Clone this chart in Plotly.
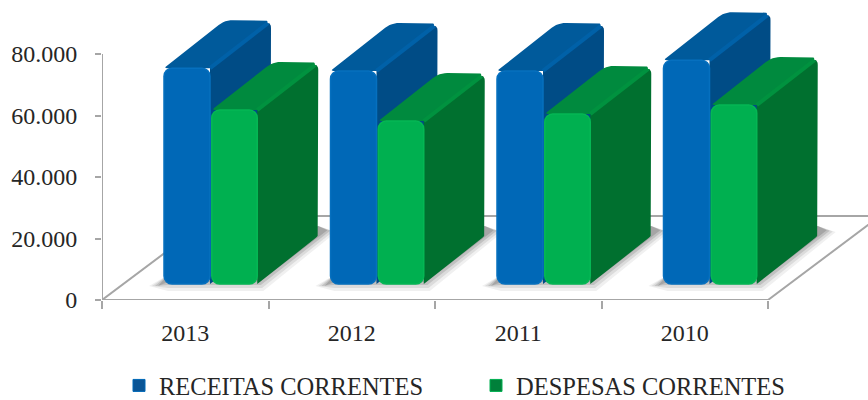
import plotly.graph_objects as go

# ---- data -------------------------------------------------------------
years = ["2013", "2012", "2011", "2010"]
receitas = [70200, 69300, 69300, 72800]
despesas = [56600, 53000, 55300, 58200]
y_ticks = [0, 20000, 40000, 60000, 80000]
y_labels = ["0", "20.000", "40.000", "60.000", "80.000"]
series_names = ["RECEITAS CORRENTES", "DESPESAS CORRENTES"]

# ---- scale helpers ----------------------------------------------------
SX = 166.5            # px per category
SY = 246 / 80000      # px per value unit
ux = lambda p: p / SX
uy = lambda p: p / SY
FONT = "Liberation Serif"
GRAY = "#a6a6a6"

BASE = uy(16)
DX, DY = ux(61), uy(48)
FLOOR_DX, FLOOR_DY = ux(112), uy(84)
OFF = [ux(-21.25), ux(26.5)]
WID = [ux(46), ux(45.5)]
positions = list(range(len(years)))


def rounded(points, radii):
    out = []
    n = len(points)
    for i in range(n):
        x, y = points[i]
        r = radii[i]
        if r == 0:
            out.append((x, y))
            continue
        ax, ay = points[i - 1]
        bx, by = points[(i + 1) % n]
        def towards(tx, ty):
            vx, vy = (tx - x) * SX, (ty - y) * SY
            d = (vx * vx + vy * vy) ** 0.5
            return x + vx / d * r / SX, y + vy / d * r / SY
        p0 = towards(ax, ay)
        p2 = towards(bx, by)
        for k in range(7):
            t = k / 6
            out.append(((1 - t) ** 2 * p0[0] + 2 * t * (1 - t) * x + t * t * p2[0],
                        (1 - t) ** 2 * p0[1] + 2 * t * (1 - t) * y + t * t * p2[1]))
    return out


def join(polys):
    xs, ys = [], []
    for poly in polys:
        xs += [p[0] for p in poly] + [poly[0][0], None]
        ys += [p[1] for p in poly] + [poly[0][1], None]
    return xs, ys


fig = go.Figure()


def line(xs, ys, z=0):
    fig.add_trace(go.Scatter(x=xs, y=ys, mode="lines", cliponaxis=False, showlegend=False,
                             hoverinfo="skip", zorder=z,
                             line=dict(color=GRAY, width=2)))


# floor and axes
x_l, x_r = -0.5, len(years) - 0.5
line([x_l, x_l], [0, y_ticks[-1]])
line([x_l, x_r], [0, 0])
line([x_l, x_l + FLOOR_DX, x_r + FLOOR_DX, x_r],
     [0, FLOOR_DY, FLOOR_DY, 0])

# floor shadows
for shrink, alpha in [(0, 0.08), (3, 0.12), (6, 0.18), (9, 0.22)]:
    polys = []
    for pos in positions:
        x0 = pos + OFF[0]
        x1 = pos + OFF[1] + WID[1]
        s = shrink
        polys.append([
            (x0 - ux(15 - s), BASE - uy(2)),
            (x0 + ux(4), BASE + uy(9)),
            (x1 + DX, BASE + DY + uy(10)),
            (x1 + DX + ux(18 - s), BASE + DY + uy(4 + s * 0.2)),
            (x1 + ux(6 - s * 0.4), BASE - uy(7 - s)),
            (x0 + ux(4), BASE - uy(7 - s)),
        ])
    xs, ys = join(polys)
    fig.add_trace(go.Scatter(x=xs, y=ys, mode="lines", fill="toself", line=dict(width=0),
                             fillcolor=f"rgba(70,70,70,{alpha})", showlegend=False,
                             hoverinfo="skip", zorder=1))

# 3-D faces and front bars
styles = [
    dict(top="#005a9b", side="#004c86", ridge="#0061a8", front="#0068b7", edge="#0670bf", key="#0a5596"),
    dict(top="#008a3e", side="#00702f", ridge="#00923f", front="#00b050", edge="#04b754", key="#00803a"),
]
for s, vals in enumerate([receitas, despesas]):
    st = styles[s]
    tops, sides, rx, ry = [], [], [], []
    for pos, v in zip(positions, vals):
        x0 = pos + OFF[s]
        x1 = x0 + WID[s]
        yt = BASE + v
        tops.append(rounded([(x0, yt), (x0 + DX, yt + DY), (x1 + DX, yt + DY), (x1, yt)],
                            [3, 8, 8, 0]))
        sides.append(rounded([(x1, yt), (x1 + DX, yt + DY), (x1 + DX, BASE + DY), (x1, BASE)],
                             [0, 8, 3, 0]))
        rx += [x1, x1 + DX - ux(3), None]
        ry += [yt, yt + DY - uy(3), None]
    for polys, color in [(tops, st["top"]), (sides, st["side"])]:
        xs, ys = join(polys)
        fig.add_trace(go.Scatter(x=xs, y=ys, mode="lines", fill="toself",
                                 line=dict(width=0, color=color), fillcolor=color,
                                 showlegend=False, hoverinfo="skip", zorder=2 + s))
    fig.add_trace(go.Scatter(x=rx, y=ry, mode="lines", line=dict(width=4, color=st["ridge"]),
                             showlegend=False, hoverinfo="skip", zorder=2 + s))
    fig.add_trace(go.Bar(x=positions, y=vals, base=BASE, name=series_names[s], showlegend=False,
                         width=WID[s], offset=OFF[s], zorder=4 + s,
                         marker=dict(color=st["front"], cornerradius=8,
                                     line=dict(color=st["edge"], width=1.5))))
    # legend key (square, as in the reference)
    fig.add_trace(go.Bar(x=[None], y=[None], name=series_names[s],
                         marker=dict(color=st["key"], line=dict(color=st["front"], width=1))))

fig.update_layout(
    width=868, height=400, margin=dict(l=102, r=0, t=0, b=100, autoexpand=False),
    paper_bgcolor="white", plot_bgcolor="white", barmode="overlay",
    font=dict(family=FONT, color="#262626"),
    legend=dict(orientation="h", x=(119 - 102) / 766, xanchor="left", y=-0.285, yanchor="middle",
                font=dict(family=FONT, size=24.5, color="#262626"),
                entrywidth=312, entrywidthmode="pixels", traceorder="normal",
                bgcolor="rgba(0,0,0,0)"),
    xaxis=dict(range=[-0.5, -0.5 + 766 / SX], tickmode="array", tickvals=positions, ticktext=years,
               ticks="", showgrid=False, zeroline=False, showline=False,
               tickfont=dict(family=FONT, size=24, color="#262626"), ticklabelstandoff=16,
               minor=dict(tickmode="array", tickvals=[x_l + i for i in range(len(years) + 1)],
                          ticks="outside", ticklen=8, tickwidth=2, tickcolor=GRAY, showgrid=False)),
    yaxis=dict(range=[0, 300 / SY], tickmode="array", tickvals=y_ticks, ticktext=y_labels,
               ticks="outside", ticklen=6, tickwidth=2, tickcolor=GRAY,
               showgrid=False, zeroline=False, showline=False,
               tickfont=dict(family=FONT, size=24, color="#262626"), ticklabelstandoff=13),
)

fig.write_html("out.html", post_script="document.body.style.margin='0';",
               config=dict(displayModeBar=False))
